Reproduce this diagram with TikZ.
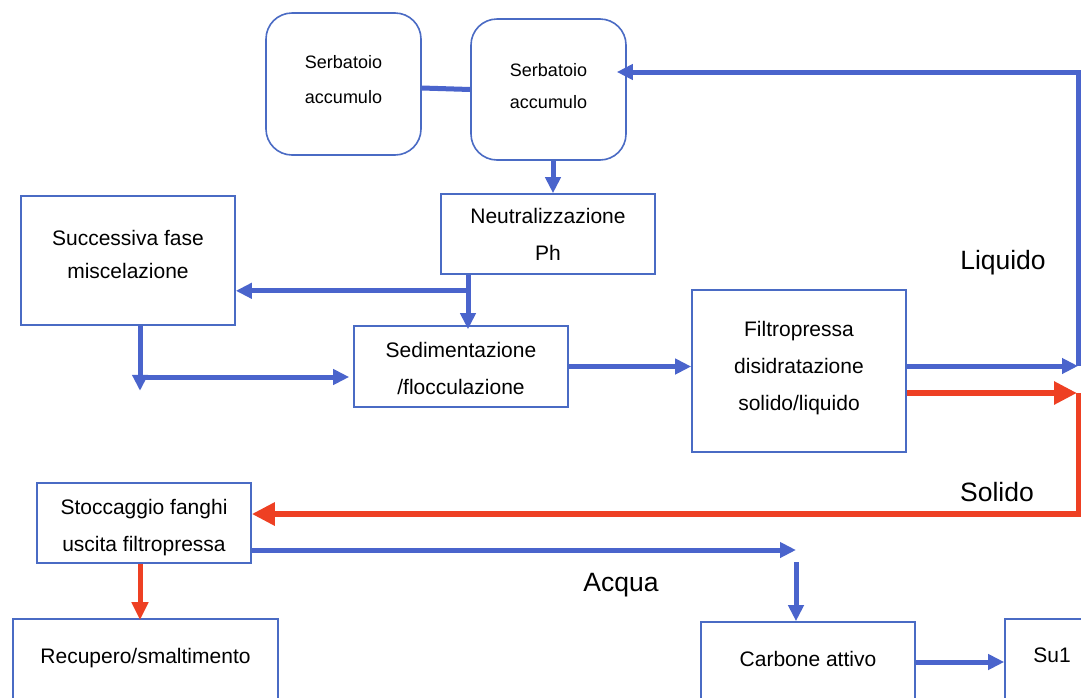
\documentclass[tikz,border=0pt]{standalone}
\usepackage{fontspec}
\setmainfont{Liberation Sans}
\usetikzlibrary{arrows.meta,calc}
\definecolor{boxblue}{HTML}{4A6BC4}
\definecolor{lineblue}{HTML}{4A64CC}
\definecolor{linered}{HTML}{EE4023}
\begin{document}
\begin{tikzpicture}[x=1pt,y=-1pt,
  box/.style={draw=boxblue, line width=1.6pt, align=center, inner sep=0pt, font=\fontsize{21}{37}\selectfont},
  tank/.style={box, rounded corners=26pt, font=\fontsize{18}{35}\selectfont},
  bline/.style={draw=lineblue, line width=5pt},
  barrow/.style={bline, -{Triangle[length=16pt,width=15pt]}},
  rline/.style={draw=linered, line width=6pt},
  rarrow/.style={rline, -{Triangle[length=23pt,width=22pt]}},
  rsmall/.style={rline, line width=5pt, -{Triangle[length=18pt,width=16pt]}},
  lbl/.style={font=\fontsize{26.5}{30}\selectfont, inner sep=0pt}]
\useasboundingbox (0,0) rectangle (1081,697);
\fill[white] (0,0) rectangle (1081,697);
\clip (0,0) rectangle (1081,697);

% nodes
\node[tank, minimum width=155pt, minimum height=142pt] (S1) at (343.5,84) {Serbatoio\\accumulo\\[-26pt]\mbox{}};
\node[tank, minimum width=155pt, minimum height=141pt, font=\fontsize{18}{32}\selectfont] (S2) at (548.5,89.5) {Serbatoio\\accumulo\\[-24pt]\mbox{}};
\node[box, minimum width=214pt, minimum height=80pt] (Neut) at (548,234) {Neutralizzazione\\Ph};
\node[box, minimum width=214pt, minimum height=129pt, font=\fontsize{21}{33}\selectfont] (Succ) at (128,260.5) {Successiva fase\\miscelazione\\[-21pt]\mbox{}};
\node[box, minimum width=214pt, minimum height=81pt] (Sed) at (461,366.5) {\rule{0pt}{19pt}Sedimentazione\\/flocculazione};
\node[box, minimum width=214pt, minimum height=162pt] (Filtro) at (799,371) {Filtropressa\\disidratazione\\solido/liquido\\[-26.5pt]\mbox{}};
\node[box, minimum width=214pt, minimum height=80pt] (Stocc) at (144,523) {\rule{0pt}{23.5pt}Stoccaggio fanghi\\uscita filtropressa};
\node[box, minimum width=265pt, minimum height=110pt] (Recup) at (145.5,674) {Recupero/smaltimento\\\mbox{}};
\node[box, minimum width=214pt, minimum height=110pt] (Carb) at (808,677) {Carbone attivo\\\mbox{}};
\node[box, minimum width=94pt, minimum height=110pt] (Su1) at (1052,674) {Su1\\\mbox{}};

% labels
\node[lbl] (Liq) at (1003,263) {Liquido};
\node[lbl] (Sol) at (997,492) {Solido};
\node[lbl] (Acq) at (621,585) {Acqua};

% free-end coordinates
\coordinate (R1) at (1078,366);
\coordinate (R2) at (1078,72);
\coordinate (R3) at (1079,393);
\coordinate (R4) at (1079,514);
\coordinate (A1) at (796,550);
\coordinate (A2) at (796,562);

% connectors
\draw[bline] ([yshift=-4pt]S1.east) -- (S2.west);
\draw[barrow] ([xshift=4.5pt]S2.south) -- ([xshift=5pt]Neut.north);

\coordinate (n1) at ([xshift=-80pt]Neut.south);
\draw[barrow] (n1) -- ($(n1 |- Sed.north)+(0,4)$);
\coordinate (j1) at ($(n1)+(0,16)$);
\draw[barrow] (j1) -- (j1 -| Succ.east);

\coordinate (j2) at ([xshift=12pt]Succ.south);
\draw[barrow] (j2) -- ++(0,65);
\coordinate (sw) at ([yshift=-10.5pt,xshift=-4pt]Sed.west);
\draw[barrow] (j2 |- sw) -- (sw);

\draw[barrow] (Sed.east) -- (Sed.east -| Filtro.west);

\coordinate (lq) at ([yshift=5pt]Filtro.east);
\draw[barrow] (lq) -- (lq -| R1);
\draw[barrow] (R1) -- (R2) -- ([xshift=-10pt]S2.east |- R2);

\coordinate (sq) at ([yshift=-22pt]Filtro.east);
\draw[rarrow] (sq) -- ([xshift=-2pt]sq -| R3);
\draw[rarrow] (R3) -- (R4) -- (R4 -| Stocc.east);

\coordinate (aq) at ([yshift=-27pt]Stocc.east);
\draw[barrow] (aq) -- (aq -| A1);
\draw[barrow] (A2) -- ([xshift=-12pt]Carb.north);

\draw[rsmall] ([xshift=-4pt]Stocc.south) -- ([xshift=-5.5pt,yshift=-2pt]Recup.north);

\coordinate (cq) at ([yshift=15pt]Carb.east);
\draw[barrow] (cq) -- (cq -| Su1.west);
\end{tikzpicture}
\end{document}
